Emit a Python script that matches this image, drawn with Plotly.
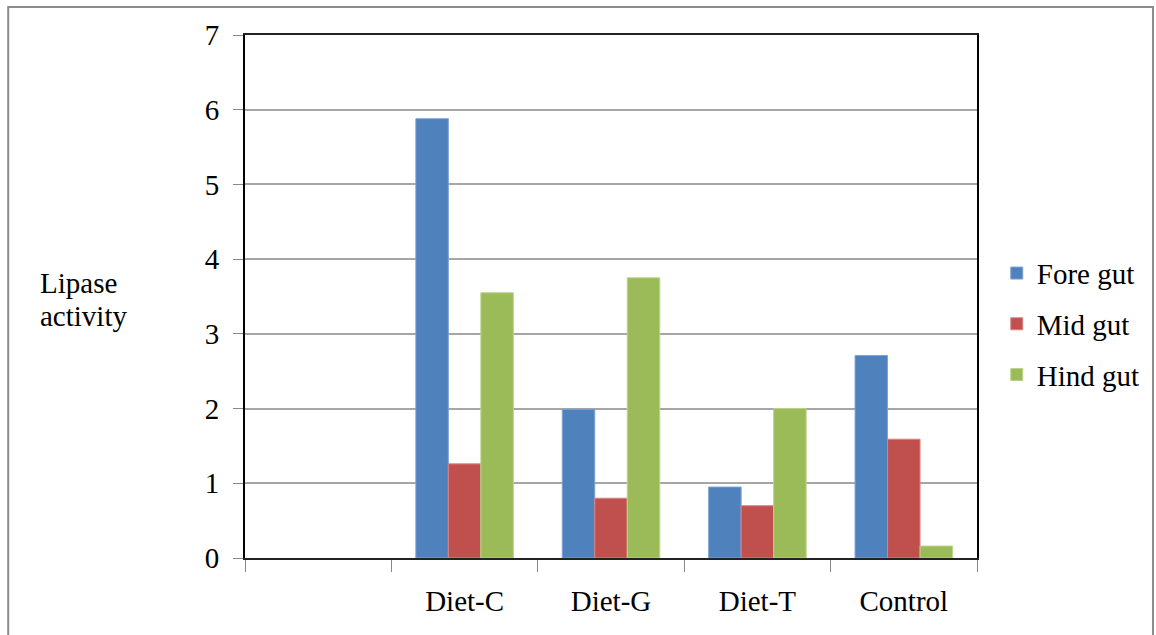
import plotly.graph_objects as go

# Lipase activity by gut region for each diet
categories = ["", "Diet-C", "Diet-G", "Diet-T", "Control"]
fore_gut = [None, 5.88, 1.99, 0.95, 2.71]
mid_gut = [None, 1.26, 0.80, 0.70, 1.59]
hind_gut = [None, 3.55, 3.75, 2.00, 0.16]
y_ticks = [0, 1, 2, 3, 4, 5, 6, 7]
y_title_lines = ["Lipase", "activity"]

FONT = "Liberation Serif"
FS = 29
series = [
    ("Fore gut", fore_gut, "#4F81BD", "#7FA3D3"),
    ("Mid gut", mid_gut, "#C0504D", "#D98482"),
    ("Hind gut", hind_gut, "#9BBB59", "#BBD38C"),
]

fig = go.Figure()
for i, (name, vals, color, edge) in enumerate(series):
    fig.add_trace(go.Bar(
        name=name, x=categories, y=vals,
        marker=dict(color=color, line=dict(color=edge, width=1)),
        legendgroup=f"g{i}",
    ))

fig.update_layout(
    width=1156, height=635,
    margin=dict(l=245, r=179, t=35, b=77, autoexpand=False),
    paper_bgcolor="white", plot_bgcolor="white",
    barmode="group", bargap=0.334, bargroupgap=0,
    font=dict(family=FONT, size=FS, color="black"),
    showlegend=True,
    legend=dict(
        x=1.027, y=0.447, xanchor="left", yanchor="middle",
        font=dict(family=FONT, size=FS, color="black"),
        tracegroupgap=10, itemwidth=30,
        bgcolor="rgba(0,0,0,0)",
    ),
    xaxis=dict(
        type="category", categoryorder="array", categoryarray=categories,
        showline=True, linecolor="#222222", linewidth=2, mirror=True,
        ticks="outside", tickson="boundaries", ticklen=12,
        tickcolor="#888888", tickwidth=1,
        showgrid=False, tickfont=dict(family=FONT, size=FS),
        ticklabelstandoff=16,
    ),
    yaxis=dict(
        range=[0, 7], tickvals=y_ticks,
        showline=True, linecolor="black", linewidth=2, mirror=True,
        ticks="outside", ticklen=10, tickcolor="#888888", tickwidth=1,
        showgrid=True, gridcolor="#A6A6A6", gridwidth=1.5,
        zeroline=False, ticklabelstandoff=8,
        tickfont=dict(family=FONT, size=FS),
    ),
)

# Horizontal axis title, one annotation per line
for line, ypos in zip(y_title_lines, [0.526, 0.463]):
    fig.add_annotation(
        text=line, xref="paper", yref="paper",
        x=-0.283, y=ypos, xanchor="left", yanchor="middle", align="left",
        showarrow=False, font=dict(family=FONT, size=FS, color="black"),
    )

# Outer chart border
fig.add_shape(
    type="rect", xref="paper", yref="paper",
    x0=-0.3235, x1=1.2404, y0=-0.2, y1=1.0535,
    line=dict(color="#8C8C8C", width=2), fillcolor="rgba(0,0,0,0)",
    layer="below",
)

fig.write_html("out.html")
